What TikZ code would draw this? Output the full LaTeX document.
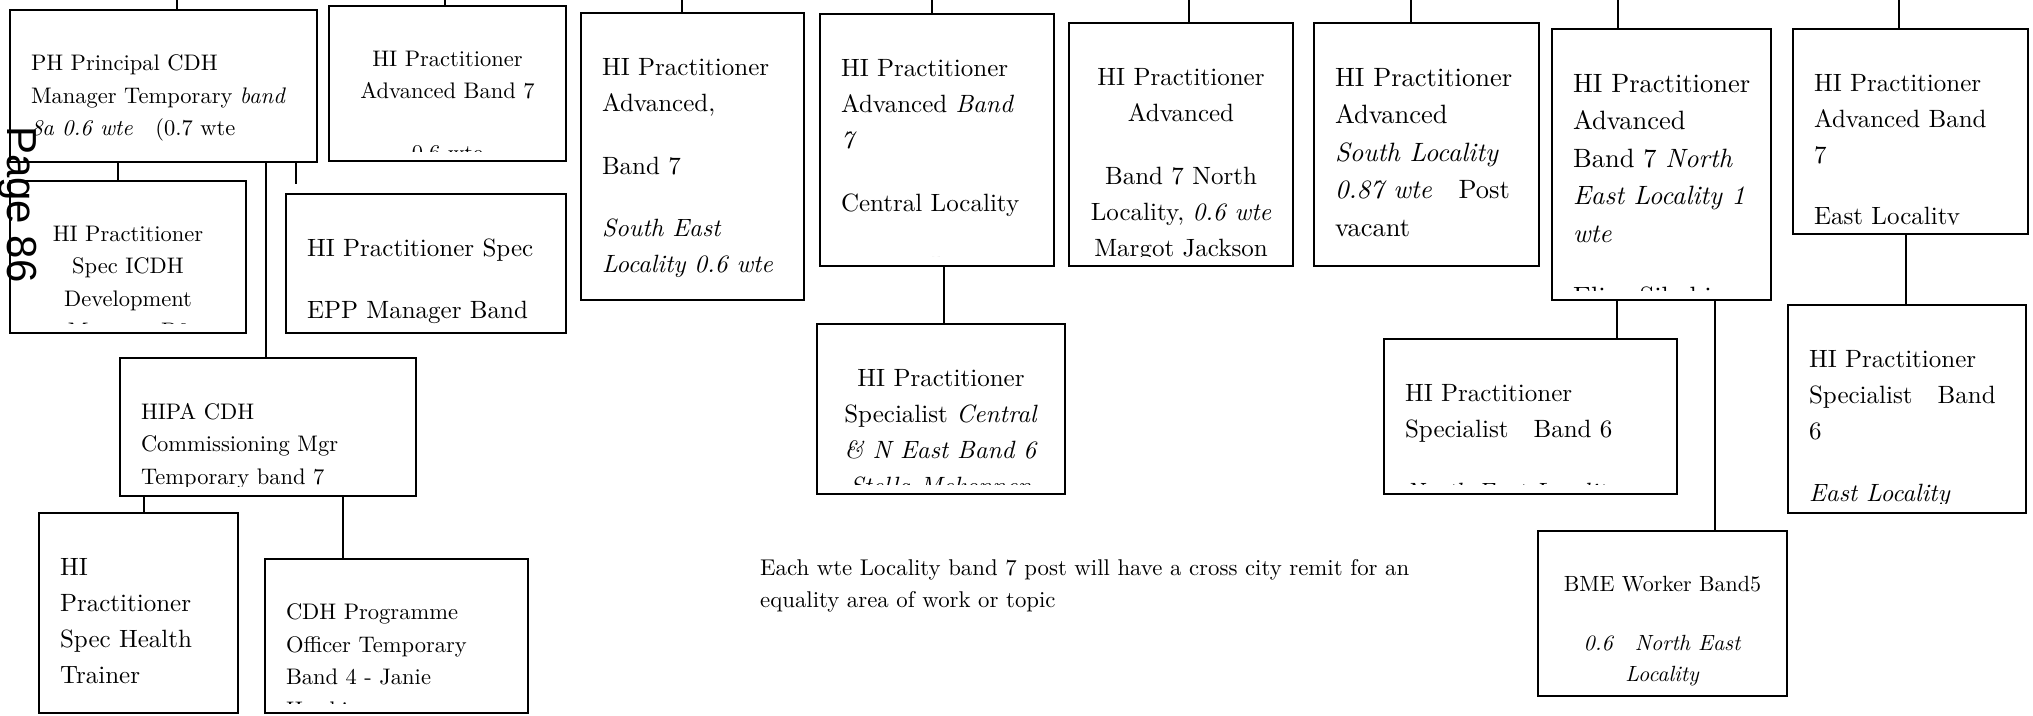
\documentclass[tikz,border=0pt]{standalone}
\usepackage{fontspec}
\usepackage{tikz}
\setmainfont{lmroman10-regular.otf}[ItalicFont=lmroman10-italic.otf, BoldFont=lmroman10-bold.otf]
\newfontfamily\pagefont{Liberation Sans}

\begin{document}
\begin{tikzpicture}[
    x=1pt, y=-1pt,
    post/.style={rectangle, draw, line width=2pt, inner sep=0pt, anchor=north west,
                 font=\fontsize{25}{36}\selectfont},
    small/.style={font=\fontsize{22.5}{32.5}\selectfont},
    large/.style={font=\fontsize{26.5}{37.5}\selectfont},
    tiny/.style={font=\fontsize{22}{31}\selectfont},
    lefttext/.style={path picture={
        \clip ([yshift=10pt]path picture bounding box.south west) rectangle (path picture bounding box.north east);
        \node[inner sep=0pt, minimum width=0pt, minimum height=0pt, anchor=north west, align=left]
            at ([xshift=20pt, yshift=-44pt]path picture bounding box.north west) {#1};}},
    midtext/.style={path picture={
        \clip ([yshift=10pt]path picture bounding box.south west) rectangle (path picture bounding box.north east);
        \node[inner sep=0pt, minimum width=0pt, minimum height=0pt, anchor=north, align=center]
            at ([yshift=-44pt]path picture bounding box.north) {#1};}},
    link/.style={line width=2pt}
]
\useasboundingbox (0,0) rectangle (2033,715);

% left group
\node[post, small, minimum width=307pt, minimum height=152pt,
      lefttext={PH Principal CDH\\Manager Temporary \textit{band}\\\textit{8a 0.6 wte}\ \ \ (0.7 wte}] (phmgr) at (9,9) {};
\node[post, small, minimum width=237pt, minimum height=155pt,
      midtext={HI Practitioner\\Advanced Band 7\\[29pt]0.6 wte}] (advtop) at (328,5) {};
\node[post, small, minimum width=236pt, minimum height=152pt,
      midtext={HI Practitioner\\Spec ICDH\\Development\\Manager B6}] (icdh) at (9,180) {};
\node[post, minimum width=280pt, minimum height=139pt,
      lefttext={HI Practitioner Spec\\[26pt]EPP Manager Band}] (epp) at (285,193) {};
\node[post, small, minimum width=296pt, minimum height=138pt,
      lefttext={HIPA CDH\\Commissioning Mgr\\Temporary band 7}] (hipa) at (119,357) {};
\node[post, minimum width=199pt, minimum height=200pt,
      lefttext={HI\\Practitioner\\Spec Health\\Trainer}] (trainer) at (38,512) {};
\node[post, small, minimum width=263pt, minimum height=154pt,
      lefttext={CDH Programme\\Officer Temporary\\Band 4 - Janie\\Hawkins}] (cdhprog) at (264,558) {};

% localities
\node[post, minimum width=223pt, minimum height=287pt,
      lefttext={HI Practitioner\\Advanced,\\[27pt]Band 7\\[26pt]\textit{South East}\\\textit{Locality 0.6 wte}}] (southeast) at (580,12) {};
\node[post, minimum width=234pt, minimum height=252pt,
      lefttext={HI Practitioner\\Advanced \textit{Band}\\\textit{7}\\[27pt]Central Locality\\[27pt]0.6 wte Joanne}] (central) at (819,13) {};
\node[post, minimum width=248pt, minimum height=170pt,
      midtext={HI Practitioner\\Specialist \textit{Central}\\\textit{\& N East Band 6}\\\textit{Stella Mekonnen}}] (centralspec) at (816,323) {};
\node[post, minimum width=224pt, minimum height=243pt,
      midtext={HI Practitioner\\Advanced\\[27pt]Band 7 North\\Locality, \textit{0.6 wte}\\Margot Jackson}] (north) at (1068,22) {};
\node[post, large, minimum width=225pt, minimum height=243pt,
      lefttext={HI Practitioner\\Advanced\\\textit{South Locality}\\\textit{0.87 wte}\quad Post\\vacant}] (south) at (1313,22) {};
\node[post, large, minimum width=219pt, minimum height=271pt,
      lefttext={HI Practitioner\\Advanced\\Band 7 \textit{North}\\\textit{East Locality 1}\\\textit{wte}\\[26pt]Eliza Sibahi}] (northeast) at (1551,28) {};
\node[post, minimum width=235pt, minimum height=205pt,
      lefttext={HI Practitioner\\Advanced Band\\7\\[25pt]East Locality}] (east) at (1792,28) {};
\node[post, minimum width=293pt, minimum height=155pt,
      lefttext={HI Practitioner\\Specialist\quad Band 6\\[27pt]\textit{North East Locality}}] (nespec) at (1383,338) {};
\node[post, minimum width=238pt, minimum height=208pt,
      lefttext={HI Practitioner\\Specialist\quad Band\\6\\[26pt]\textit{East Locality}}] (eastspec) at (1787,304) {};
\node[post, tiny, minimum width=249pt, minimum height=165pt,
      midtext={BME Worker Band5\\[28pt]\textit{0.6\quad North East}\\\textit{Locality}}] (bme) at (1537,530) {};

\node[font=\fontsize{22.8}{32}\selectfont, align=left, anchor=north west, inner sep=0pt] (note) at (760,559)
    {Each wte Locality band 7 post will have a cross city remit for an\\equality area of work or topic};
\node[font=\pagefont\fontsize{42}{50}\selectfont, rotate=-90, anchor=base west, inner sep=0pt] (pagemark) at (7,126) {Page 86};

% lines up to the posts above
\foreach \boxname/\dx/\dy in {phmgr/168/9, advtop/117/5, southeast/102/12, central/113/13,
                              north/121/22, south/98/22, northeast/67/28, east/107/28}
    \draw[link] ([xshift=\dx]\boxname.north west) -- ++(0,-\dy-2);

\draw[link] ([xshift=109pt]phmgr.south west) -- ([xshift=109pt]icdh.north west);
\draw[link] ([xshift=287pt]phmgr.south west) -- ++(0,21);
\draw[link] ([xshift=257pt]phmgr.south west) -- ([xshift=147pt]hipa.north west);
\draw[link] ([xshift=25pt]hipa.south west) -- ([xshift=106pt]trainer.north west);
\draw[link] ([xshift=224pt]hipa.south west) -- ([xshift=79pt]cdhprog.north west);
\draw[link] ([xshift=125pt]central.south west) -- ([xshift=128pt]centralspec.north west);
\draw[link] ([xshift=66pt]northeast.south west) -- ([xshift=234pt]nespec.north west);
\draw[link] ([xshift=164pt]northeast.south west) -- ([xshift=178pt]bme.north west);
\draw[link] ([xshift=114pt]east.south west) -- ([xshift=119pt]eastspec.north west);

\end{tikzpicture}
\end{document}
